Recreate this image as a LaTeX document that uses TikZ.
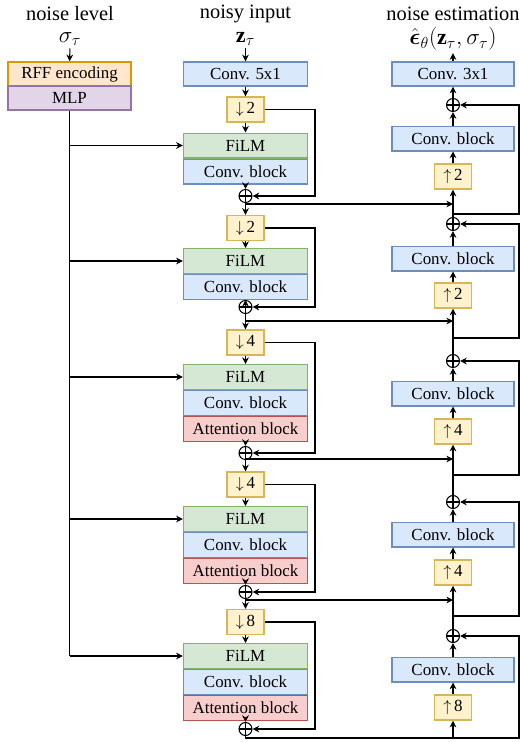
\documentclass[tikz,border=0pt]{standalone}
\usepackage{amsmath}
\usepackage{fontspec}
\setmainfont{Liberation Serif}
\usetikzlibrary{arrows.meta}
\definecolor{convF}{HTML}{DAE8FC}\definecolor{convD}{HTML}{6C8EBF}
\definecolor{filmF}{HTML}{D5E8D4}\definecolor{filmD}{HTML}{82B366}
\definecolor{attF}{HTML}{F8CECC}\definecolor{attD}{HTML}{B85450}
\definecolor{yelF}{HTML}{FFF2CC}\definecolor{yelD}{HTML}{D6B656}
\definecolor{rffF}{HTML}{FFE6CC}\definecolor{rffD}{HTML}{D79B00}
\definecolor{mlpF}{HTML}{E1D5E7}\definecolor{mlpD}{HTML}{9673A6}
\tikzset{
  blk/.style={draw, line width=1.1pt, inner sep=0pt, font=\fontsize{12.7}{15}\selectfont, minimum height=18.4pt},
  wideE/.style={blk, minimum width=93pt},
  wideD/.style={blk, minimum width=91.5pt},
  convb/.style={fill=convF, draw=convD},
  filmb/.style={fill=filmF, draw=filmD},
  attb/.style={fill=attF, draw=attD},
  sampb/.style={blk, fill=yelF, draw=yelD, minimum width=28pt, minimum height=18.75pt},
  plusn/.style={circle, draw, line width=0.8pt, minimum size=9.75pt, inner sep=0pt,
    path picture={\draw[line width=0.8pt] (path picture bounding box.north) -- (path picture bounding box.south)
      (path picture bounding box.west) -- (path picture bounding box.east);}},
  arr/.style={-{Stealth[length=5pt,width=5pt]}, line width=0.8pt},
  ln/.style={line width=0.8pt},
  ttl/.style={font=\fontsize{15.3}{18}\selectfont, inner sep=0pt},
  mth/.style={font=\fontsize{16.5}{19}\selectfont, inner sep=0pt, outer sep=2pt}
}
\begin{document}
\begin{tikzpicture}[x=0.75pt,y=-0.75pt]
\useasboundingbox (0,0) rectangle (520,742);
% helper columns
\coordinate (xr) at (315,0);
\coordinate (dx) at (453,0);
\coordinate (xe) at (519,0);
% titles
\node[ttl] (t1) at (70,14) {noise level};
\node[mth] (sig) at (70,39) {$\sigma_\tau$};
\node[ttl] (t2) at (245.5,14) {noisy input};
\node[mth] (zt) at (245.5,39) {$\mathbf{z}_\tau$};
\node[ttl] (t3) at (453,14) {noise estimation};
\node[mth] (eps) at (453,39) {$\hat{\boldsymbol{\epsilon}}_\theta(\mathbf{z}_\tau,\sigma_\tau)$};
% left column
\node[blk, minimum width=92.25pt, minimum height=18pt, fill=rffF, draw=rffD] (rff) at (69.5,74) {RFF encoding};
\node[blk, minimum width=92.25pt, minimum height=18pt, fill=mlpF, draw=mlpD] (mlp) at (69.5,98) {MLP};
\draw[arr] (sig) -- (rff);
% encoder
\node[wideE, convb, minimum height=18pt] (conv5) at (245.5,74) {Conv. 5x1};
\draw[arr] (zt) -- (conv5);
% stage 1
\node[sampb] (d1) at (245.5,109.5) {$\downarrow$\,2};
\node[wideE, filmb] (f1) at (245.5,145.5) {FiLM};
\node[wideE, convb, anchor=north] (c1) at (f1.south) {Conv. block};
\node[plusn] (p1) at (245.5,196) {};
% stage 2
\node[sampb] (d2) at (245.5,228) {$\downarrow$\,2};
\node[wideE, filmb] (f2) at (245.5,261) {FiLM};
\node[wideE, convb, anchor=north] (c2) at (f2.south) {Conv. block};
\node[plusn] (p2) at (245.5,307) {};
% stage 3
\node[sampb] (d3) at (245.5,342.5) {$\downarrow$\,4};
\node[wideE, filmb] (f3) at (245.5,377) {FiLM};
\node[wideE, convb, anchor=north] (c3) at (f3.south) {Conv. block};
\node[wideE, attb, anchor=north] (a3) at (c3.south) {Attention block};
\node[plusn] (p3) at (245.5,453) {};
% stage 4
\node[sampb] (d4) at (245.5,484.5) {$\downarrow$\,4};
\node[wideE, filmb] (f4) at (245.5,519) {FiLM};
\node[wideE, convb, anchor=north] (c4) at (f4.south) {Conv. block};
\node[wideE, attb, anchor=north] (a4) at (c4.south) {Attention block};
\node[plusn] (p4) at (245.5,592) {};
% stage 5
\node[sampb] (d5) at (245.5,622) {$\downarrow$\,8};
\node[wideE, filmb] (f5) at (245.5,656) {FiLM};
\node[wideE, convb, anchor=north] (c5) at (f5.south) {Conv. block};
\node[wideE, attb, anchor=north] (a5) at (c5.south) {Attention block};
\node[plusn] (p5) at (245.5,729) {};
% encoder connectors
\draw[arr] (conv5) -- (d1);
\draw[arr] (d1) -- (f1);
\draw[arr] (c1) -- (p1);
\draw[arr] (d1.east) -- (d1.east -| xr) |- (p1);
\draw[arr] (p1) -- (d2);
\draw[arr] (d2) -- (f2);
\draw[arr] (c2) -- (p2);
\draw[arr] (d2.east) -- (d2.east -| xr) |- (p2);
\draw[arr] (p2) -- (d3);
\draw[arr] (d3) -- (f3);
\draw[arr] (a3) -- (p3);
\draw[arr] (d3.east) -- (d3.east -| xr) |- (p3);
\draw[arr] (p3) -- (d4);
\draw[arr] (d4) -- (f4);
\draw[arr] (a4) -- (p4);
\draw[arr] (d4.east) -- (d4.east -| xr) |- (p4);
\draw[arr] (p4) -- (d5);
\draw[arr] (d5) -- (f5);
\draw[arr] (a5) -- (p5);
\draw[arr] (d5.east) -- (d5.east -| xr) |- (p5);
% MLP to FiLM
\draw[ln] (mlp.south) -- (mlp.south |- f5.west);
\foreach \f in {f1,f2,f3,f4,f5} {\draw[arr] (mlp.south |- \f.west) -- (\f.west);}
% decoder
\node[wideD, convb, minimum height=18pt] (convT) at (453,74) {Conv. 3x1};
\draw[arr] (convT) -- (eps);
\node[plusn] (q0) at (453,105) {};
\node[wideD, convb] (e1) at (453,138.5) {Conv. block};
\node[sampb] (u1) at (453,176.5) {$\uparrow$\,2};
\node[plusn] (q1) at (453,224) {};
\node[wideD, convb] (e2) at (453,258.5) {Conv. block};
\node[sampb] (u2) at (453,295.5) {$\uparrow$\,2};
\node[plusn] (q2) at (453,361) {};
\node[wideD, convb] (e3) at (453,393.5) {Conv. block};
\node[sampb] (u3) at (453,431.5) {$\uparrow$\,4};
\node[plusn] (q3) at (453,502) {};
\node[wideD, convb] (e4) at (453,534.5) {Conv. block};
\node[sampb] (u4) at (453,572.5) {$\uparrow$\,4};
\node[plusn] (q4) at (453,636) {};
\node[wideD, convb] (e5) at (453,669.5) {Conv. block};
\node[sampb] (u5) at (453,707.5) {$\uparrow$\,8};
\draw[arr] (q0) -- (convT);
\draw[arr] (e1) -- (q0);
\draw[arr] (u1) -- (e1);
\draw[arr] (q1) -- (u1);
\draw[arr] (e2) -- (q1);
\draw[arr] (u2) -- (e2);
\draw[arr] (q2) -- (u2);
\draw[arr] (e3) -- (q2);
\draw[arr] (u3) -- (e3);
\draw[arr] (q3) -- (u3);
\draw[arr] (e4) -- (q3);
\draw[arr] (u4) -- (e4);
\draw[arr] (q4) -- (u4);
\draw[arr] (e5) -- (q4);
\draw[arr] (u5) -- (e5);
% residual branches
\coordinate (r1) at (453,214);
\coordinate (r2) at (453,338);
\coordinate (r3) at (453,475);
\coordinate (r4) at (453,616);
\coordinate (r5) at (453,738);
\draw[arr] (r1) -- (r1 -| xe) |- (q0);
\draw[arr] (r2) -- (r2 -| xe) |- (q1);
\draw[arr] (r3) -- (r3 -| xe) |- (q2);
\draw[arr] (r4) -- (r4 -| xe) |- (q3);
\draw[arr] (r5) -- (r5 -| xe) |- (q4);
% skip connections
\coordinate (s1) at (245.5,204);
\coordinate (s2) at (245.5,321);
\coordinate (s3) at (245.5,459);
\coordinate (s4) at (245.5,600);
\coordinate (s5) at (245.5,738);
\draw[arr] (s1) -- (s1 -| dx);
\draw[arr] (s2) -- (s2 -| dx);
\draw[arr] (s3) -- (s3 -| dx);
\draw[arr] (s4) -- (s4 -| dx);
\draw[ln] (p5) -- (s5) -- (r5);
\draw[arr] (r5) -- (u5);
\end{tikzpicture}
\end{document}
